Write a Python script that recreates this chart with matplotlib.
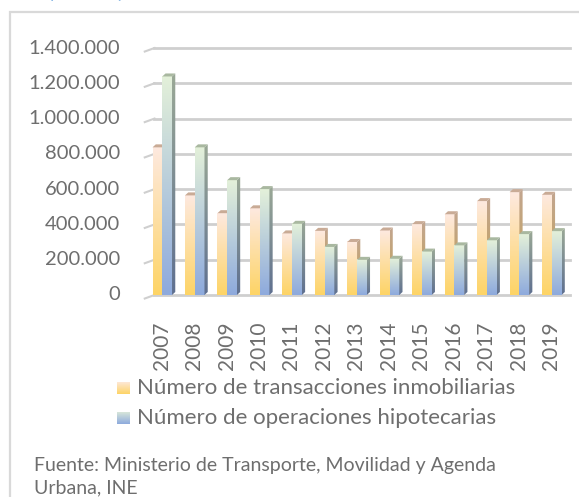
import numpy as np
import matplotlib.pyplot as plt
from matplotlib.patches import Polygon, Rectangle

years = ['2007', '2008', '2009', '2010', '2011', '2012', '2013',
         '2014', '2015', '2016', '2017', '2018', '2019']
transacciones = [836871, 564464, 463719, 491287, 349118, 363623, 300568,
                 365594, 401713, 457689, 532261, 582888, 568181]
hipotecas = [1238709, 836947, 650901, 600283, 403570, 272454, 199208,
             205323, 246070, 281328, 310096, 345186, 362000]
yticks = [0, 200000, 400000, 600000, 800000, 1000000, 1200000, 1400000]
ytick_labels = ['0', '200.000', '400.000', '600.000', '800.000',
                '1.000.000', '1.200.000', '1.400.000']
series_names = ['Número de transacciones inmobiliarias',
                'Número de operaciones hipotecarias']
fuente = ['Fuente: Ministerio de Transporte, Movilidad y Agenda', 'Urbana, INE']

plt.rcParams['font.family'] = ['Lato', 'DejaVu Sans']
W, H = 579, 497
fig = plt.figure(figsize=(W / 100, H / 100), dpi=100)

txt_col = '#6e6e6e'
grid_col = '#cfcfcf'

# chart border
fig.patches.append(Rectangle((10 / W, -0.1), 1.2, 1 - 12 / H + 0.1, transform=fig.transFigure,
                             fill=False, ec='#d9d9d9', lw=1.6))
# title, cut off at the top edge in the original
fig.text(32 / W, 1 + 2 / H, 'Hipotecas y transacciones inmobiliarias', color='#8fbbe6',
         fontsize=13, va='baseline')

ax = fig.add_axes([148 / W, 1 - 295 / H, 422 / W, 247 / H])
ax.set_xlim(-0.5, len(years) - 0.5)
ax.set_ylim(0, 1400000)
ax.axis('off')

dx, dy = 0.1, 17000
# gridlines with small slanted floor tick
for v, lab in zip(yticks, ytick_labels):
    ax.plot([-0.3, len(years) - 0.5], [v, v], color=grid_col, lw=2, zorder=1, clip_on=False)
    ax.plot([-0.6, -0.3], [v - 20000, v], color=grid_col, lw=1.5, zorder=1, clip_on=False)
    ax.text(-1.36, v, lab, ha='right', va='center', fontsize=14.5, color=txt_col)


def grad(c_top, c_bot, n=64):
    a = np.array(plt.matplotlib.colors.to_rgb(c_top))
    b = np.array(plt.matplotlib.colors.to_rgb(c_bot))
    t = np.linspace(0, 1, n)[:, None]
    return (a * (1 - t) + b * t)[:, None, :]


def bar3d(x0, w, h, front, side, top):
    ax.imshow(grad(*front), extent=[x0, x0 + w, 0, h], aspect='auto', zorder=3,
              interpolation='bilinear')
    x1 = x0 + w
    sp = Polygon([(x1, 0), (x1 + dx, dy), (x1 + dx, h + dy), (x1, h)], closed=True,
                 transform=ax.transData)
    im = ax.imshow(grad(*side), extent=[x1, x1 + dx, 0, h + dy], aspect='auto', zorder=3,
                   interpolation='bilinear')
    im.set_clip_path(sp)
    ax.add_patch(Polygon([(x0, h), (x1, h), (x1 + dx, h + dy), (x0 + dx, h + dy)],
                         closed=True, fc=top, ec='none', zorder=3))


orange = (('#fde9df', '#fed466'), ('#c2a690', '#c4a24e'), '#c9ab96')
green = (('#e3f0d9', '#8eaadd'), ('#9aa896', '#5f7090'), '#a9b8a0')
bw = 0.3
for i in range(len(years)):
    bar3d(i - 0.36, bw, transacciones[i], *orange)
    bar3d(i - 0.36 + bw, bw, hipotecas[i], *green)
    ax.text(i - 0.08, -150000, years[i], rotation=90, ha='center', va='top',
            fontsize=15, color=txt_col)

ax.set_xlim(-0.5, len(years) - 0.5)
ax.set_ylim(0, 1400000)

# legend with gradient squares
for k, (name, sty) in enumerate(zip(series_names, [orange, green])):
    yc = 1 - (388 + 30 * k) / H
    sq = fig.add_axes([117 / W, yc - 6.5 / H, 13 / W, 13 / H])
    sq.imshow(grad(*sty[0]), aspect='auto', extent=[0, 1, 0, 1])
    sq.axis('off')
    fig.text(137 / W, yc, name, fontsize=16, color=txt_col, va='center')

for k, line in enumerate(fuente):
    fig.text(34 / W, 1 - (465 + 23 * k) / H, line, fontsize=14, color=txt_col, va='center')

fig.savefig('out.png', dpi=100)
